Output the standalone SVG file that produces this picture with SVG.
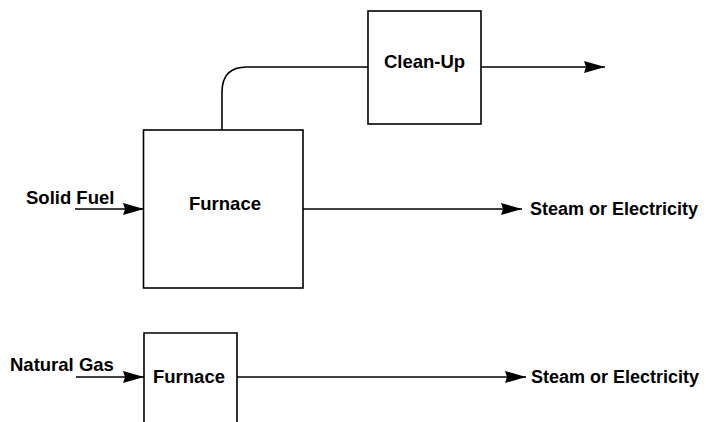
<svg xmlns="http://www.w3.org/2000/svg" width="706" height="422" viewBox="0 0 706 422">
<defs>
<style>
.box{fill:#fff;stroke:#000;stroke-width:1.6}
.ln{fill:none;stroke:#000;stroke-width:1.6}
.t{font-family:"Liberation Sans",Arial,Helvetica,sans-serif;font-weight:bold;font-size:18.5px;fill:#000}
.s{font-size:18px}
</style>
<marker id="ah" markerWidth="21" markerHeight="12" refX="21" refY="6" orient="auto" markerUnits="userSpaceOnUse">
<path d="M0,0 L21,6 L0,12 L2,6 Z" fill="#000"/>
</marker>
</defs>
<rect width="706" height="422" fill="#fff"/>
<g id="connectors">
<path class="ln" d="M222,130 V92 Q222,67 247,67 H368"/>
<path class="ln" d="M481,67 H605" marker-end="url(#ah)"/>
<path class="ln" d="M75,209 H144" marker-end="url(#ah)"/>
<path class="ln" d="M303,209 H522" marker-end="url(#ah)"/>
<path class="ln" d="M76,377 H144" marker-end="url(#ah)"/>
<path class="ln" d="M237,377 H526" marker-end="url(#ah)"/>
</g>
<g id="cleanup">
<rect class="box" x="368" y="11" width="113" height="113"/>
<text class="t" x="424.5" y="68" text-anchor="middle">Clean-Up</text>
</g>
<g id="furnace1">
<rect class="box" x="143.5" y="130" width="159.5" height="158"/>
<text class="t" x="225" y="210" text-anchor="middle">Furnace</text>
</g>
<g id="furnace2">
<path class="box" d="M144,424 V333 H237 V424"/>
<text class="t" x="189" y="383" text-anchor="middle">Furnace</text>
</g>
<g id="labels">
<text class="t" x="26" y="204">Solid Fuel</text>
<text class="t" x="10" y="371">Natural Gas</text>
<text class="t s" x="530" y="215">Steam or Electricity</text>
<text class="t s" x="531" y="383">Steam or Electricity</text>
</g>
</svg>
